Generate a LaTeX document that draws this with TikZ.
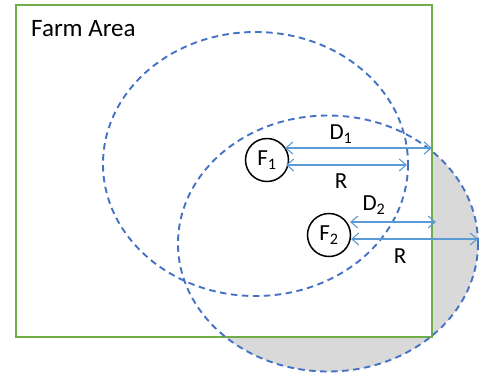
\documentclass[tikz,border=0pt]{standalone}
\usepackage{fontspec}
\setmainfont{Carlito}
\usetikzlibrary{arrows.meta}
\definecolor{farmgreen}{HTML}{70AD47}
\definecolor{dashblue}{HTML}{4472C4}
\definecolor{arrblue}{HTML}{5B9BD5}
\definecolor{outgray}{HTML}{D9D9D9}
\tikzset{
  zone/.style={draw=dashblue, line width=1.9pt, dash pattern=on 6.5pt off 4.5pt},
  farm/.style={draw=farmgreen, line width=1.8pt},
  fnode/.style={circle, draw=black, line width=1.5pt, minimum size=43pt, inner sep=0pt, font=\fontsize{23}{25}\selectfont},
  lbl/.style={font=\fontsize{23}{25}\selectfont, inner sep=0pt},
  dim/.style={draw=arrblue, line width=1.1pt, {Straight Barb[length=7pt,width=12pt]}-{Straight Barb[length=7pt,width=12pt]}}
}
\begin{document}
\begin{tikzpicture}[x=1pt,y=-1pt]
\useasboundingbox (0,0) rectangle (480,376);
% part of zone 2 outside the farm
\begin{scope}
  \clip (328,243.5) ellipse [x radius=150, y radius=128];
  \fill[outgray] (432,0) rectangle (480,376);
  \fill[outgray] (0,337) rectangle (480,376);
\end{scope}
% farm area
\draw[farm] (16,5) rectangle (432,337);
\node[anchor=north west, inner sep=0pt, font=\fontsize{25}{27}\selectfont] (farmlbl) at (31,20) {Farm Area};
% zones
\draw[zone] (255.5,164) ellipse [x radius=152.5, y radius=132];
\draw[zone] (328,243.5) ellipse [x radius=150, y radius=128];
% farms
\node[fnode] (F1) at (267,160) {F\textsubscript{1}};
\node[fnode] (F2) at (329,235) {F\textsubscript{2}};
% dimension lines
\coordinate (d1s) at (285,148);
\coordinate (d1e) at (432,148);
\coordinate (r1s) at (286,165);
\coordinate (r1e) at (407,165);
\coordinate (d2s) at (350,222);
\coordinate (d2e) at (436,222);
\coordinate (r2s) at (351,239);
\coordinate (r2e) at (478,239);
\draw[dim] (d1s) -- (d1e);
\draw[dim] (r1s) -- (r1e);
\draw[dim] (d2s) -- (d2e);
\draw[dim] (r2s) -- (r2e);
\node[lbl] (D1) at (341,134) {D\textsubscript{1}};
\node[lbl] (R1) at (341,181) {R};
\node[lbl] (D2) at (374,205) {D\textsubscript{2}};
\node[lbl] (R2) at (400,256) {R};
\end{tikzpicture}
\end{document}
